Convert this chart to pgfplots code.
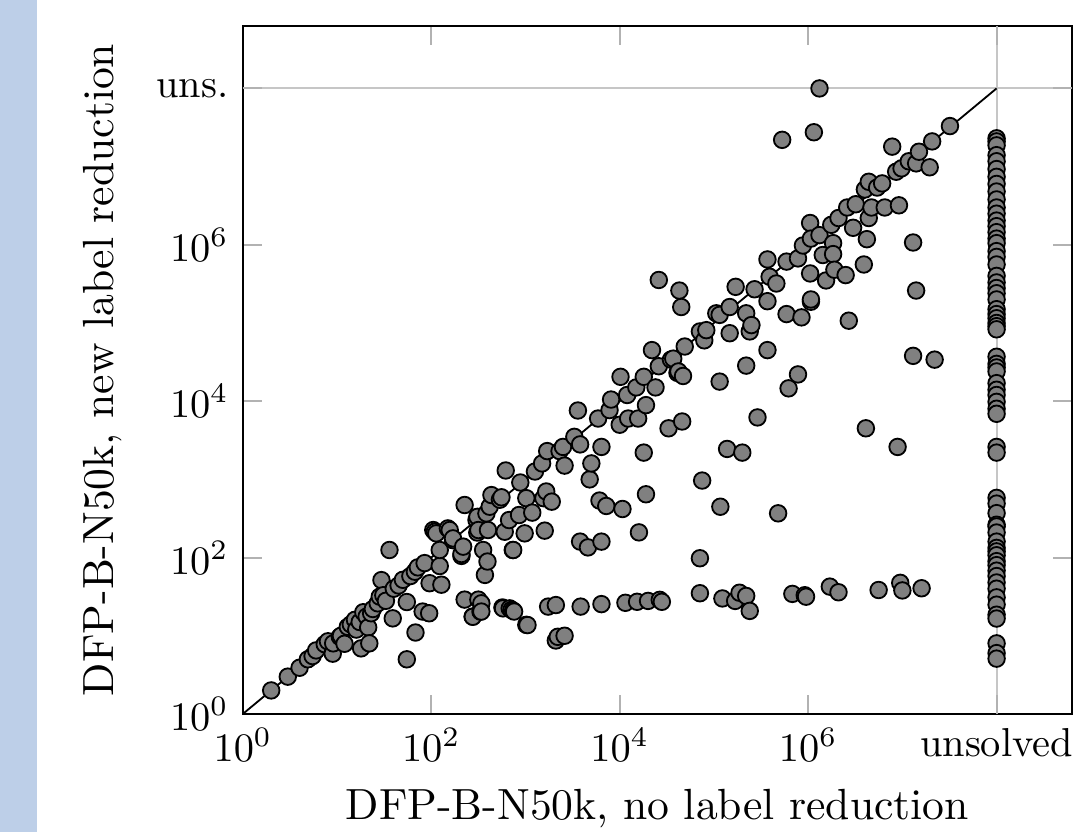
\documentclass[border=0pt]{standalone}
\usepackage{pgfplots}
\pgfplotsset{compat=1.18}
\definecolor{slidebar}{RGB}{189,207,232}
\definecolor{markgray}{RGB}{128,128,128}

\begin{document}
\begin{tikzpicture}
\begin{axis}[
  name=ax,
  scale only axis,
  width=205.2pt, height=170.3pt,
  xmode=log, ymode=log,
  xmin=1, xmax=6.31e8,
  ymin=1, ymax=6.31e8,
  xtick={1,1e2,1e4,1e6},
  ytick={1,1e2,1e4,1e6},
  minor xtick={}, minor ytick={},
  extra x ticks={1e8}, extra x tick labels={unsolved},
  extra y ticks={1e8}, extra y tick labels={uns.},
  extra x tick style={grid=major},
  extra y tick style={grid=major},
  major grid style={gray!45, line width=0.5pt},
  tick style={gray!60, line width=0.5pt},
  major tick length=4.7pt,
  axis line style={black, line width=0.5pt},
  xlabel={DFP-B-N50k, no label reduction},
  ylabel={DFP-B-N50k, new label reduction},
  ylabel shift=1.7pt,
  label style={font=\fontsize{10.8}{13}\selectfont},
  clip=false,
]
\addplot[black, line width=0.45pt] coordinates {(1,1) (1e8,1e8)};
\addplot[only marks, mark=*, mark size=2.05pt,
  mark options={fill=markgray, draw=black, line width=0.45pt}]
  table {
x y
2 2
3 3
4 3.9
4.9 5
5.5 5.5
6 6.5
7.4 7.8
8 8.5
9 5.9
9.1 8
10.7 9.7
11 10
12 7.9
13 13
14 14
15.5 16
16 12
17.4 15
18 6.9
19 20
20.6 17.6
21.4 12.8
22 8
23 19.4
24 22
27 26
28.4 31.6
29.6 51.5
31 33
33 28
36 125
39 16.7
40 40
45 44
50 52
55 27
55 5
60 58
67 66
68 11
72 75
81 20.4
85 85
95 19.4
96 47
105 225
109 214
113 204
123 78
123 125
128 45
150 236
157 225
170 167
170 176
209 105
209 111
218 138
226 470
226 29
275 17.6
276 17.5
302 302
308 209
309 332
316 225
316 29
333 20.4
340 26
340 20.4
355 125
371 60
385 367
395 89
400 225
417 447
435 630
535 550
556 590
569 23
578 22.4
602 214
617 1300
670 302
680 22.4
710 21.4
733 125
740 125
740 21
757 20.4
855 350
881 912
980 204
1020 13.8
1020 575
1050 13.7
1180 376
1260 1260
1500 1600
1550 575
1600 221
1660 700
1700 2300
1740 23.6
1900 519
2100 24.7
2100 8.7
2200 9.7
2300 2300
2500 2600
2600 1500
2600 10
3300 3500
3600 7600
3800 2800
3800 160
3850 23.6
4600 135
4800 1000
5000 1600
5900 6000
6100 536
6400 2600
6400 160
6400 25.4
7200 457
7800 7700
8100 10500
10000 5000
10200 20500
10700 418
11500 26.4
12000 12000
12300 6000
15000 15000
15300 27.2
15700 6000
16000 210
18000 20500
18000 2200
19000 8900
19000 645
20000 27.9
22000 45000
24000 15000
26000 28000
26000 355000
26600 28.8
28000 27.2
33000 4500
35000 34000
37000 35000
41000 23000
42000 24000
43000 260000
45000 160000
46000 5500
47000 21000
49000 50000
71000 78000
71000 98
71000 35
75000 966
79000 60000
83000 81000
106000 133000
115000 127000
115000 17800
117000 447
123000 30
138000 2450
147000 160000
147000 74000
168000 27.9
170000 290000
187000 35.5
200000 2200
220000 133000
220000 28500
220000 32.3
240000 78000
240000 20.8
250000 94000
270000 270000
290000 6200
370000 190000
370000 650000
370000 45000
390000 390000
460000 320000
480000 368
530000 22000000
590000 610000
590000 130000
620000 14600
680000 34.3
780000 670000
780000 22000
850000 118000
880000 980000
920000 33
950000 31.6
1050000 1900000
1050000 430000
1070000 1200000
1070000 187000
1070000 200000
1150000 27500000
1320000 100000000
1320000 1330000
1430000 740000
1550000 350000
1700000 42.5
1760000 1800000
1840000 1050000
1840000 760000
1900000 480000
2100000 2200000
2100000 36
2500000 410000
2600000 3000000
2700000 107000
3000000 1650000
3200000 3300000
3900000 560000
4000000 5100000
4100000 4500
4200000 1180000
4400000 6400000
4400000 2200000
4700000 3000000
5400000 5400000
5600000 38.5
6100000 6100000
6500000 3000000
7800000 18000000
8600000 8600000
8900000 2600
9200000 3200000
9500000 47.5
9800000 9500000
10000000 38
11700000 11700000
13000000 1070000
13000000 38000
14000000 11000000
14000000 260000
15000000 15500000
16000000 40.5
19500000 9800000
20700000 21000000
22000000 34000
32000000 33000000
1e8 23000000
1e8 21000000
1e8 18700000
1e8 14000000
1e8 11700000
1e8 9300000
1e8 7400000
1e8 6000000
1e8 4800000
1e8 3800000
1e8 3000000
1e8 2500000
1e8 2040000
1e8 1730000
1e8 1450000
1e8 1200000
1e8 1050000
1e8 830000
1e8 700000
1e8 560000
1e8 400000
1e8 330000
1e8 280000
1e8 240000
1e8 200000
1e8 150000
1e8 130000
1e8 115000
1e8 100000
1e8 91000
1e8 83000
1e8 37000
1e8 30000
1e8 27000
1e8 24000
1e8 17000
1e8 14000
1e8 12000
1e8 9800
1e8 8000
1e8 6900
1e8 2600
1e8 2200
1e8 580
1e8 490
1e8 370
1e8 263
1e8 250
1e8 209
1e8 160
1e8 133
1e8 120
1e8 107
1e8 90
1e8 80
1e8 68
1e8 58
1e8 48
1e8 40
1e8 31
1e8 25
1e8 18.6
1e8 16.6
1e8 8
1e8 6
1e8 5.1
};
\end{axis}
\pgfresetboundingbox
\path[use as bounding box] ([xshift=-60.1pt,yshift=-29.2pt]ax.south west)
  rectangle ([xshift=1.5pt,yshift=6.4pt]ax.north east);
\fill[slidebar] ([xshift=-60.1pt,yshift=-29.2pt]ax.south west)
  rectangle ([xshift=-50.9pt,yshift=6.4pt]ax.north west);
\end{tikzpicture}
\end{document}
